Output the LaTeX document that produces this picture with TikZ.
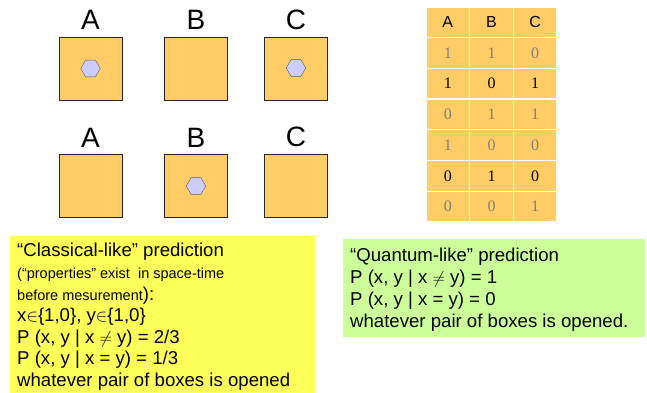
\documentclass[tikz,border=0pt]{standalone}
\usepackage{fontspec}
\setmainfont{Liberation Sans}
\newfontfamily\tabfont{Liberation Serif}
\usetikzlibrary{shapes.geometric, positioning}
\definecolor{boxorange}{RGB}{255,204,102}
\definecolor{gemlilac}{RGB}{204,204,255}
\definecolor{classyellow}{RGB}{255,255,90}
\definecolor{quantgreen}{RGB}{204,255,153}
\definecolor{lightval}{RGB}{128,128,128}

\tikzset{
  box/.style={draw=black!85, fill=boxorange, minimum size=63pt, inner sep=0pt},
  gem/.style={regular polygon, regular polygon sides=6, draw=black!65, fill=gemlilac, minimum size=19.5pt, inner sep=0pt},
  boxlabel/.style={font=\fontsize{28}{28}\selectfont, inner sep=0pt},
  cell/.style={draw=white, line width=1.2pt, fill=boxorange, minimum width=43.7pt, minimum height=30.7pt, inner sep=0pt},
  panel/.style={inner sep=0pt},
  bigtxt/.style={anchor=base west, font=\fontsize{18.6}{22}\selectfont, inner sep=0pt},
  smalltxt/.style={anchor=base west, font=\fontsize{14.5}{18}\selectfont, inner sep=0pt}
}

\begin{document}
\begin{tikzpicture}[x=1pt, y=-1pt]
  \useasboundingbox (0,0) rectangle (647,393);
  % Boxes, first opening
  \node[box] (A1) at (90.5,68.5) {};
  \node[box] (B1) at (196,68.5) {};
  \node[box] (C1) at (296,69) {};
  \node[boxlabel, above=7pt of A1] (labA1) {A};
  \node[boxlabel, above=7pt of B1] (labB1) {B};
  \node[boxlabel, above=7pt of C1] (labC1) {C};
  \node[gem] (gemA1) at (A1) {};
  \node[gem] (gemC1) at ([yshift=1pt]C1.center) {};
  % Boxes, second opening
  \node[box] (A2) at (90.5,186) {};
  \node[box] (B2) at (196,186) {};
  \node[box] (C2) at (296,186) {};
  \node[boxlabel, above=7pt of A2] (labA2) {A};
  \node[boxlabel, above=7pt of B2] (labB2) {B};
  \node[boxlabel, above=7pt of C2] (labC2) {C};
  \node[gem] (gemB2) at (B2) {};
  % Table of values
  \foreach \col [count=\c from 0] in {A,B,C}
    \node[cell, font=\fontsize{16}{16}\selectfont] (head-\c) at (447.8+43.7*\c, 22.3) {\col};
  \foreach \r/\va/\vb/\vc/\tint in {1/1/1/0/lightval, 2/1/0/1/black, 3/0/1/1/lightval,
                                    4/1/0/0/lightval, 5/0/1/0/black, 6/0/0/1/lightval} {
    \node[cell, text=\tint, font=\tabfont\fontsize{16}{16}\selectfont] (val-\r-0) at (447.8, 22.3+30.7*\r) {\va};
    \node[cell, text=\tint, font=\tabfont\fontsize{16}{16}\selectfont] (val-\r-1) at (491.5, 22.3+30.7*\r) {\vb};
    \node[cell, text=\tint, font=\tabfont\fontsize{16}{16}\selectfont] (val-\r-2) at (535.2, 22.3+30.7*\r) {\vc};
  }
  % Classical prediction
  \node[panel, fill=classyellow, minimum width=305pt, minimum height=157pt] (classical) at (162.5,314.5) {};
  \node[bigtxt] (cl1) at (17,256) {“Classical-like” prediction};
  \node[smalltxt] (cl2) at (17,278) {(“properties” exist\ \ in space-time};
  \node[smalltxt] (cl3) at (17,300) {before mesurement\fontsize{18.6}{22}\selectfont):};
  \node[bigtxt] (cl4) at (17,321) {x$\in$\{1,0\}, y$\in$\{1,0\}};
  \node[bigtxt] (cl5) at (17,343) {P (x, y | x $\neq$ y) = 2/3};
  \node[bigtxt] (cl6) at (17,364) {P (x, y | x = y) = 1/3};
  \node[bigtxt] (cl7) at (17,386) {whatever pair of boxes is opened};
  % Quantum prediction
  \node[panel, fill=quantgreen, minimum width=302pt, minimum height=98pt] (quantum) at (494,288) {};
  \node[bigtxt] (qu1) at (350,261) {“Quantum-like” prediction};
  \node[bigtxt] (qu2) at (350,283) {P (x, y | x $\neq$ y) = 1};
  \node[bigtxt] (qu3) at (350,305) {P (x, y | x = y) = 0};
  \node[bigtxt] (qu4) at (350,327) {whatever pair of boxes is opened.};
\end{tikzpicture}
\end{document}
